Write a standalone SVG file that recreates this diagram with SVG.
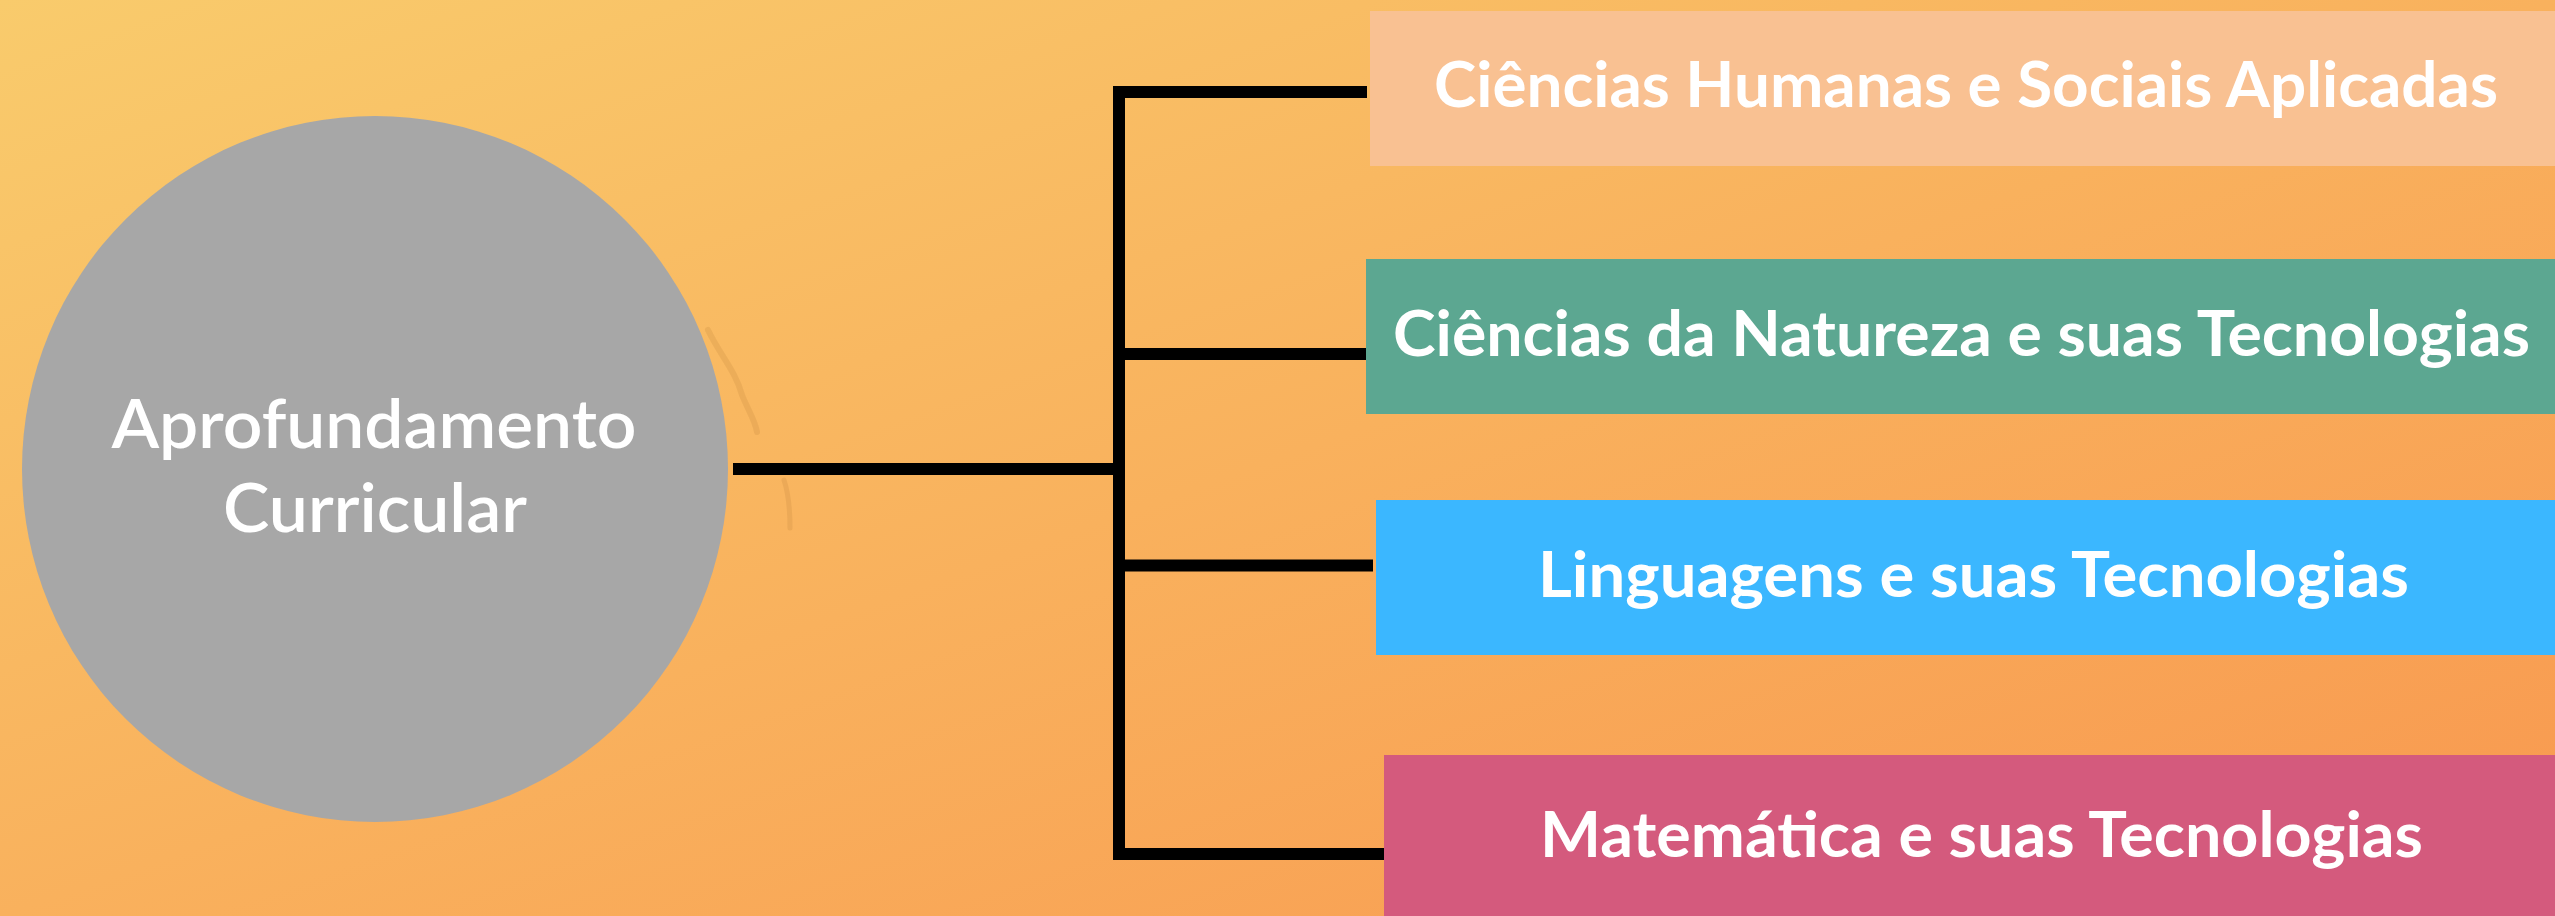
<svg xmlns="http://www.w3.org/2000/svg" width="2555" height="916" viewBox="0 0 2555 916">
  <defs>
    <linearGradient id="bg" x1="0" y1="0" x2="1" y2="1">
      <stop offset="0" stop-color="#F9CB6C"/>
      <stop offset="0.5" stop-color="#F9B15D"/>
      <stop offset="1" stop-color="#F8984F"/>
    </linearGradient>
  </defs>
  <style>
    .conn { stroke: #000; stroke-width: 12; fill: none; stroke-linecap: butt; }
    .lbl { font-family: "Lato", "Open Sans", "Noto Sans", sans-serif; font-weight: 700; font-size: 63px; fill: #FFFFFF; }
    .ctr { font-family: "Lato", "Open Sans", "Noto Sans", sans-serif; font-weight: 600; font-size: 67px; fill: #FFFFFF; text-anchor: middle; }
  </style>
  <rect x="0" y="0" width="2555" height="916" fill="url(#bg)"/>
  <g id="texture" fill="none" stroke="#C0833C" stroke-linecap="round" opacity="0.22">
    <path d="M708 330 C720 355 735 370 742 395 C748 410 755 420 757 432" stroke-width="6"/>
    <path d="M784 480 C789 495 790 510 790 528" stroke-width="5"/>
  </g>
  <g id="connectors">
    <line class="conn" x1="733" y1="469" x2="1119" y2="469" stroke-width="11"/>
    <polyline class="conn" points="1367,92 1119,92 1119,854 1384,854" stroke-linejoin="miter"/>
    <line class="conn" x1="1119" y1="354" x2="1367" y2="354"/>
    <line class="conn" x1="1119" y1="565.5" x2="1373" y2="565.5"/>
  </g>
  <g id="node-center">
    <circle cx="375" cy="469" r="353" fill="#A7A7A7"/>
    <text class="ctr" x="374" y="448" textLength="525" lengthAdjust="spacingAndGlyphs">Aprofundamento</text>
    <text class="ctr" x="375" y="532" textLength="304" lengthAdjust="spacingAndGlyphs">Curricular</text>
  </g>
  <g id="node-humanas">
    <rect x="1370" y="11" width="1185" height="155" fill="#F9C192"/>
    <text class="lbl" x="1434" y="107" textLength="1064" lengthAdjust="spacingAndGlyphs">Ciências Humanas e Sociais Aplicadas</text>
  </g>
  <g id="node-natureza">
    <rect x="1366" y="259" width="1189" height="155" fill="#5CA791"/>
    <text class="lbl" x="1393" y="356" textLength="1137" lengthAdjust="spacingAndGlyphs">Ciências da Natureza e suas Tecnologias</text>
  </g>
  <g id="node-linguagens">
    <rect x="1376" y="500" width="1179" height="155" fill="#3BB7FF"/>
    <text class="lbl" x="1538" y="597" textLength="871" lengthAdjust="spacingAndGlyphs">Linguagens e suas Tecnologias</text>
  </g>
  <g id="node-matematica">
    <rect x="1384" y="755" width="1171" height="161" fill="#D45A7D"/>
    <text class="lbl" x="1540" y="857" textLength="883" lengthAdjust="spacingAndGlyphs">Matemática e suas Tecnologias</text>
  </g>
</svg>
